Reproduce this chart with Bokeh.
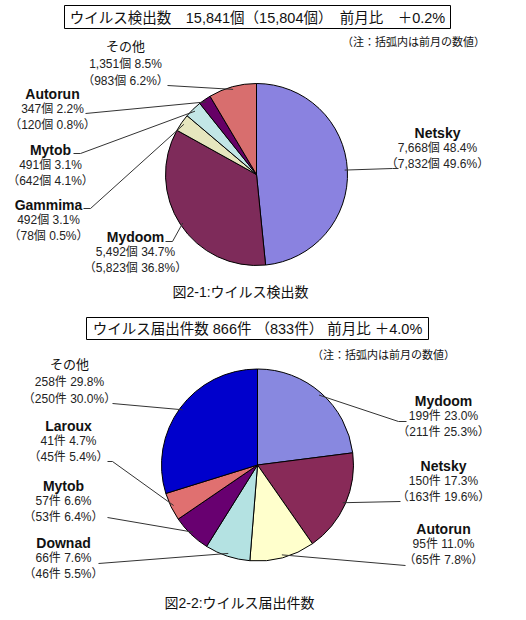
import math
from bokeh.plotting import figure
from bokeh.models import Range1d, ColumnDataSource
from bokeh.core.properties import value
from bokeh.embed import file_html
from bokeh.resources import INLINE

# ---------------- data ----------------
c1_names = ["Netsky", "Mydoom", "Gammima", "Mytob", "Autorun", "その他"]
c1_counts = [7668, 5492, 492, 491, 347, 1351]
c1_pct = [48.4, 34.7, 3.1, 3.1, 2.2, 8.5]
c1_prev_counts = [7832, 5823, 78, 642, 120, 983]
c1_prev_pct = [49.6, 36.8, 0.5, 4.1, 0.8, 6.2]
c1_colors = ["#8A82E0", "#7E2B5A", "#E6E6BE", "#C2E6E6", "#660066", "#D86E6E"]
c1_unit = "個"
c1_title = "ウイルス検出数　15,841個（15,804個）　前月比　＋0.2%"
c1_caption = "図2-1:ウイルス検出数"

c2_names = ["Mydoom", "Netsky", "Autorun", "Downad", "Mytob", "Laroux", "その他"]
c2_counts = [199, 150, 95, 66, 57, 41, 258]
c2_pct = [23.0, 17.3, 11.0, 7.6, 6.6, 4.7, 29.8]
c2_prev_counts = [211, 163, 65, 46, 53, 45, 250]
c2_prev_pct = [25.3, 19.6, 7.8, 5.5, 6.4, 5.4, 30.0]
c2_colors = ["#8888E0", "#882A58", "#FFFFCC", "#B4E2E2", "#680070", "#E07070", "#0000CC"]
c2_unit = "件"
c2_title = "ウイルス届出件数 866件 （833件） 前月比 ＋4.0%"
c2_caption = "図2-2:ウイルス届出件数"

note_text = "（注：括弧内は前月の数値）"

# ---------------- layout (page pixel coordinates) ----------------
LAT = "'Liberation Sans', 'Noto Sans CJK JP'"
CJK = "'Noto Sans CJK JP'"

layout1 = dict(
    cx=256, cy=174, r=91,
    box=(64, 450, 5, 28), title_xy=(257, 17), note_xy=(413, 40), caption_xy=(240, 291),
    labels={
        "Netsky": (437, 132), "Mydoom": (135, 236), "Gammima": (48, 204),
        "Mytob": (50, 149), "Autorun": (52, 93), "その他": (125, 45),
    },
    leaders={
        "Netsky": [(398, 168), (392, 168)], "Mydoom": [(165, 241), (172, 241)],
        "Gammima": [(83, 208), (90, 208)], "Mytob": [(73, 153), (80, 153)],
        "Autorun": [(85, 113)], "その他": [(167, 85)],
    },
)
layout2 = dict(
    cx=257, cy=464.5, r=96,
    box=(86, 428, 317, 339), title_xy=(257, 328), note_xy=(383, 353), caption_xy=(239, 602),
    labels={
        "その他": (69, 363), "Mydoom": (443, 400), "Laroux": (68, 425), "Netsky": (443, 465),
        "Mytob": (63, 485), "Autorun": (443, 528), "Downad": (63, 542),
    },
    leaders={
        "その他": [(112, 403)], "Mydoom": [(406, 421), (398, 421)],
        "Laroux": [(107, 461), (112, 461)], "Netsky": [(400, 501)],
        "Mytob": [(107, 517)], "Autorun": [(405, 565)], "Downad": [(98, 563)],
    },
)

W, H = 510, 612
p = figure(width=W, height=H, x_range=Range1d(0, W), y_range=Range1d(H, 0),
           output_backend="svg", toolbar_location=None, min_border=0,
           outline_line_color=None, background_fill_color="white")
p.axis.visible = False
p.grid.visible = False


def draw_chart(names, counts, pct, prev_counts, prev_pct, colors, unit, title, caption, L):
    total = float(sum(counts))
    cum = 0.0
    starts, ends, mids = [], [], []
    for c in counts:
        f0 = cum / total
        cum += c
        f1 = cum / total
        # clockwise from 12 o'clock -> math angles
        starts.append(math.pi / 2 - 2 * math.pi * f1)
        ends.append(math.pi / 2 - 2 * math.pi * f0)
        mids.append(2 * math.pi * (f0 + f1) / 2)
    src = ColumnDataSource(dict(start=starts, end=ends, color=colors))
    p.wedge(x=L["cx"], y=L["cy"], radius=L["r"], start_angle="start", end_angle="end",
            direction="anticlock", fill_color="color", line_color="black", line_width=1,
            source=src)

    # leader lines
    xs, ys = [], []
    for name, m in zip(names, mids):
        ex = L["cx"] + L["r"] * 0.97 * math.sin(m)
        ey = L["cy"] - L["r"] * 0.97 * math.cos(m)
        pts = L["leaders"][name] + [(ex, ey)]
        xs.append([q[0] for q in pts])
        ys.append([q[1] for q in pts])
    p.multi_line(xs=xs, ys=ys, line_color="#333333", line_width=1)

    # labels
    nx, ny, nt = [], [], []
    jx, jy, jt = [], [], []
    lx, ly, lt = [], [], []
    for i, name in enumerate(names):
        x, y = L["labels"][name]
        cur = f"{counts[i]:,}{unit} {pct[i]:.1f}%"
        prev = f"（{prev_counts[i]:,}{unit} {prev_pct[i]:.1f}%）"
        if name == "その他":
            jx.append(x); jy.append(y); jt.append(name)
            lx += [x, x]; ly += [y + 18, y + 35]; lt += [cur, prev]
        else:
            nx.append(x); ny.append(y); nt.append(name)
            lx += [x, x]; ly += [y + 15.5, y + 31]; lt += [cur, prev]
    p.text(x=nx, y=ny, text=nt, text_font=value("Liberation Sans"), text_font_size="14px",
           text_font_style="bold", text_align="center", text_baseline="middle", text_color="#111111")
    p.text(x=jx, y=jy, text=jt, text_font=value(CJK), text_font_size="13px",
           text_align="center", text_baseline="middle", text_color="#111111")
    p.text(x=lx, y=ly, text=lt, text_font=value(LAT), text_font_size="12px",
           text_align="center", text_baseline="middle", text_color="#222222")

    # title box
    l, r, t, b = L["box"]
    p.quad(left=[l], right=[r], top=[t], bottom=[b], fill_color="white", line_color="black", line_width=1)
    p.text(x=[L["title_xy"][0]], y=[L["title_xy"][1]], text=[title], text_font=value(LAT),
           text_font_size="14.5px", text_align="center", text_baseline="middle", text_color="#111111")
    p.text(x=[L["note_xy"][0]], y=[L["note_xy"][1]], text=[note_text], text_font=value(CJK),
           text_font_size="11px", text_align="center", text_baseline="middle", text_color="#111111")
    p.text(x=[L["caption_xy"][0]], y=[L["caption_xy"][1]], text=[caption], text_font=value(LAT),
           text_font_size="14px", text_align="center", text_baseline="middle", text_color="#111111")


draw_chart(c1_names, c1_counts, c1_pct, c1_prev_counts, c1_prev_pct, c1_colors, c1_unit,
           c1_title, c1_caption, layout1)
draw_chart(c2_names, c2_counts, c2_pct, c2_prev_counts, c2_prev_pct, c2_colors, c2_unit,
           c2_title, c2_caption, layout2)

open("out.html", "w").write(file_html(p, INLINE))
